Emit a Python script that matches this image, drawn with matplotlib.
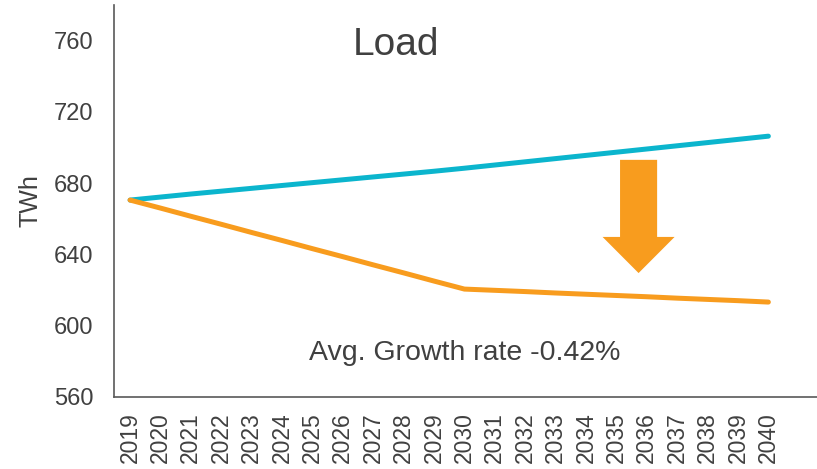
import matplotlib
matplotlib.use("Agg")
import matplotlib.pyplot as plt
from matplotlib.patches import FancyArrow

plt.rcParams['font.family'] = ['Liberation Sans', 'DejaVu Sans']

years = list(range(2019, 2041))
base_load = [670.5, 672.2, 673.9, 675.5, 677.1, 678.7, 680.3, 681.9, 683.5, 685.1, 686.7,
             688.4, 690.2, 692.0, 693.8, 695.6, 697.4, 699.2, 701.0, 702.8, 704.6, 706.4]
reduced_load = [670.5, 666.0, 661.4, 656.9, 652.3, 647.8, 643.2, 638.7, 634.1, 629.6, 625.0,
                620.5, 619.8, 619.1, 618.3, 617.6, 616.9, 616.2, 615.4, 614.7, 614.0, 613.2]
yticks = [560, 600, 640, 680, 720, 760]

TEAL = '#0bb5cd'
ORANGE = '#f89c1e'
TEXT = '#404040'

fig = plt.figure(figsize=(8.17, 4.69), dpi=100)
ax = fig.add_axes([0.1395, 0.154, 0.8605, 0.835])

ax.plot(years, base_load, color=TEAL, lw=3.6, solid_capstyle='round')
ax.plot(years, reduced_load, color=ORANGE, lw=3.6, solid_capstyle='round')

# big downward arrow between the two scenarios
ax.add_patch(FancyArrow(2035.73, 693.1, 0, -63.6, width=1.22, head_width=2.37,
                        head_length=20.3, length_includes_head=True,
                        color=ORANGE, lw=0))

ax.set_xlim(2018.47, 2041.6)
ax.set_ylim(560, 780)
ax.set_yticks(yticks)
ax.set_xticks(years)
ax.set_xticklabels([str(y) for y in years], rotation=90)
ax.tick_params(axis='y', length=0, pad=15, labelsize=17, labelcolor=TEXT)
ax.tick_params(axis='x', length=0, pad=11, labelsize=16.5, labelcolor=TEXT)
ax.set_ylabel('TWh', fontsize=18, color=TEXT, labelpad=8)

for side in ('top', 'right'):
    ax.spines[side].set_visible(False)
for side in ('left', 'bottom'):
    ax.spines[side].set_color('#595959')
    ax.spines[side].set_linewidth(1.2)

fig.text(0.485, 0.904, 'Load', ha='center', va='center', fontsize=28, color=TEXT)
fig.text(0.569, 0.247, 'Avg. Growth rate -0.42%', ha='center', va='center',
         fontsize=20.5, color=TEXT)

fig.savefig('out.png', dpi=100)
